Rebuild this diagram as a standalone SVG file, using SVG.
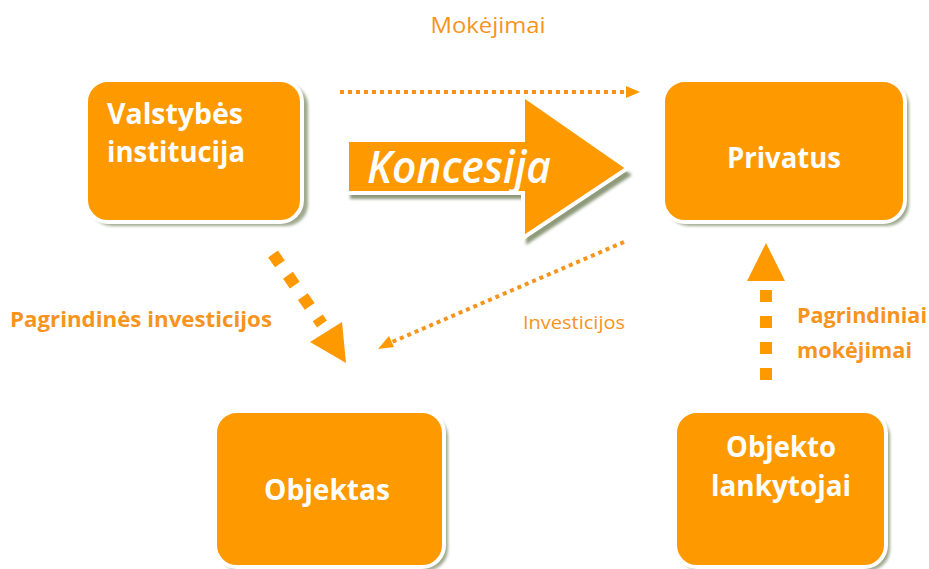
<svg xmlns="http://www.w3.org/2000/svg" width="929" height="569" viewBox="0 0 929 569">
<style>
.box{fill:#FF9900;stroke:#FFFFFF;stroke-width:4}
.shadow{fill:#8E9A7A;opacity:0.85}
.bt{font-family:"Open Sans",Lato,sans-serif;font-weight:bold;font-size:28px;fill:#FFFFFF}
.lbl{font-family:"Open Sans",Lato,sans-serif;fill:#F7941D}
.lb{font-weight:bold;font-size:21px}
.dot{fill:none;stroke:#F7941D;stroke-width:4;stroke-dasharray:4 4}
.thick{fill:none;stroke:#FF9900;stroke-width:12;stroke-dasharray:12 14}
.head{fill:#FF9900}
</style>
<defs>
<filter id="blur" x="-10%" y="-10%" width="120%" height="120%"><feGaussianBlur stdDeviation="1.5"/></filter>
</defs>
<rect width="929" height="569" fill="#FFFFFF"/>

<g id="valstybes">
<rect class="shadow" x="90" y="84" width="218" height="142" rx="22" filter="url(#blur)"/>
<rect class="box" x="86" y="80" width="216" height="142" rx="22"/>
<text class="bt" x="107" y="124" textLength="136" lengthAdjust="spacingAndGlyphs">Valstybės</text>
<text class="bt" x="107" y="162" textLength="138" lengthAdjust="spacingAndGlyphs">institucija</text>
</g>

<g id="privatus">
<rect class="shadow" x="667" y="84" width="242" height="142" rx="22" filter="url(#blur)"/>
<rect class="box" x="663" y="80" width="242" height="142" rx="22"/>
<text class="bt" x="784" y="168" text-anchor="middle" textLength="114" lengthAdjust="spacingAndGlyphs">Privatus</text>
</g>

<g id="objektas">
<rect class="shadow" x="219" y="415" width="229" height="156" rx="22" filter="url(#blur)"/>
<rect class="box" x="215" y="411" width="229" height="156" rx="22"/>
<text class="bt" x="327" y="500" text-anchor="middle" textLength="126" lengthAdjust="spacingAndGlyphs">Objektas</text>
</g>

<g id="lankytojai">
<rect class="shadow" x="679" y="415" width="211" height="156" rx="22" filter="url(#blur)"/>
<rect class="box" x="675" y="411" width="211" height="156" rx="22"/>
<text class="bt" x="781" y="457" text-anchor="middle" textLength="110" lengthAdjust="spacingAndGlyphs">Objekto</text>
<text class="bt" x="781" y="496" text-anchor="middle" textLength="140" lengthAdjust="spacingAndGlyphs">lankytojai</text>
</g>

<g id="koncesija">
<path d="M350,146 L526,146 L526,102 L632,175 L526,245 L526,199 L350,199 Z" fill="#8E9A7A" filter="url(#blur)"/>
<path d="M347,140 L523,140 L523,95 L628,168 L523,238 L523,193 L347,193 Z" fill="#FF9900" stroke="#FFFFFF" stroke-width="4" stroke-linejoin="miter"/>
<text x="367" y="183" font-family="'Open Sans',Lato,sans-serif" font-style="italic" font-weight="600" font-size="45" fill="#FFFFFF" textLength="184" lengthAdjust="spacingAndGlyphs">Koncesija</text>
</g>

<g id="connectors">
<line class="dot" x1="340" y1="92" x2="626" y2="92"/>
<polygon class="head" points="626,86 640,92 626,98"/>

<line class="dot" x1="624" y1="242" x2="392" y2="342"/>
<polygon class="head" points="378,349 389,336 394,347"/>

<line class="thick" x1="273" y1="254" x2="322" y2="324"/>
<polygon class="head" points="310,342 342,322 346,363"/>

<line class="thick" x1="766" y1="380" x2="766" y2="290"/>
<polygon class="head" points="766,243 785,281 747,281"/>
</g>

<g id="labels">
<text class="lbl" x="488" y="33" font-size="21" text-anchor="middle" textLength="115" lengthAdjust="spacingAndGlyphs">Mokėjimai</text>
<text class="lbl" x="574" y="329" font-size="18" text-anchor="middle" textLength="102" lengthAdjust="spacingAndGlyphs">Investicijos</text>
<text class="lbl lb" x="10" y="327" textLength="262" lengthAdjust="spacingAndGlyphs">Pagrindinės investicijos</text>
<text class="lbl lb" x="797" y="323" textLength="130" lengthAdjust="spacingAndGlyphs">Pagrindiniai</text>
<text class="lbl lb" x="797" y="358" textLength="115" lengthAdjust="spacingAndGlyphs">mokėjimai</text>
</g>
</svg>
